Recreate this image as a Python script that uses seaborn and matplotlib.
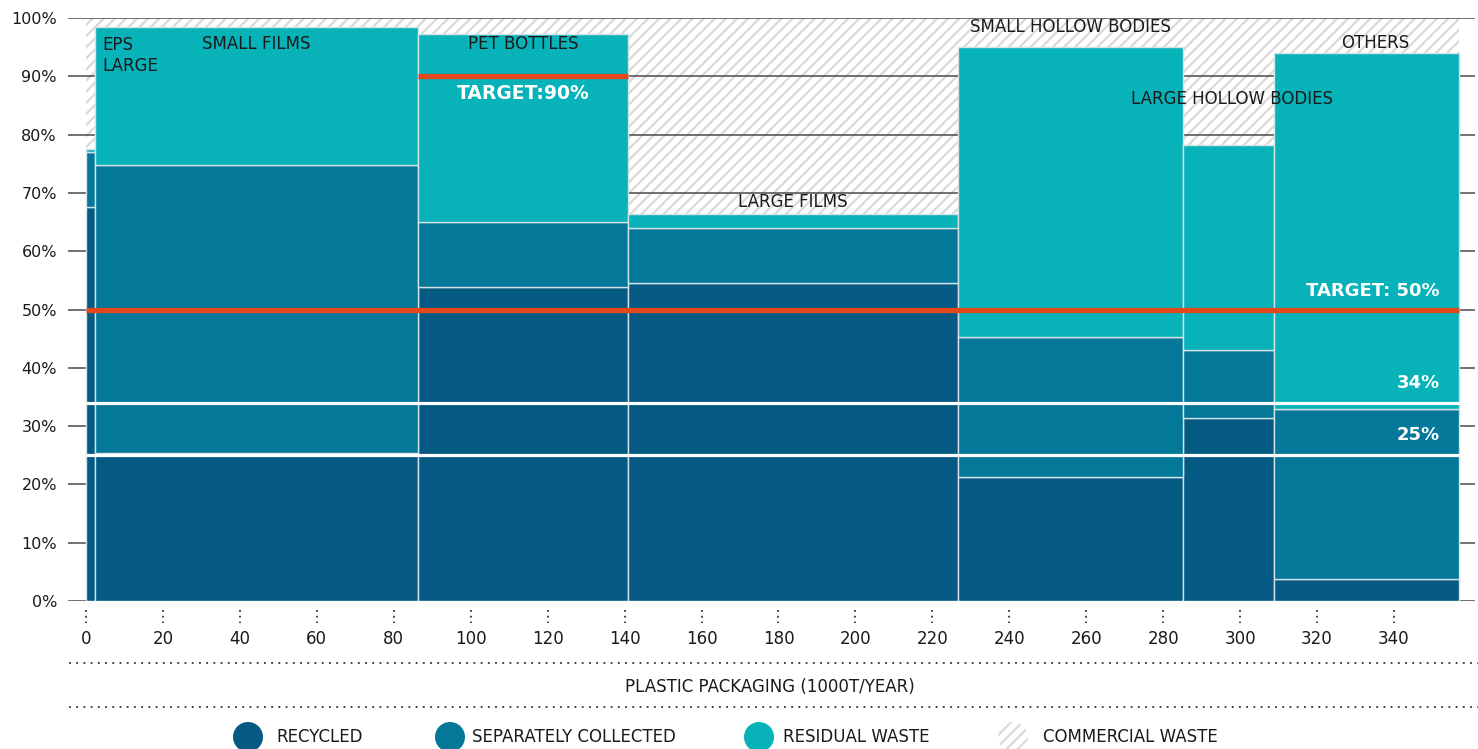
import numpy as np
import pandas as pd
import matplotlib
matplotlib.use("Agg")
import matplotlib.pyplot as plt
from matplotlib.patches import Rectangle, Circle
import seaborn as sns

# Plastic packaging streams: volume (1000 t/year) and share of each fate (%)
categories = ["EPS LARGE", "SMALL FILMS", "PET BOTTLES", "LARGE FILMS",
              "SMALL HOLLOW BODIES", "LARGE HOLLOW BODIES", "OTHERS"]
volumes = [2.3, 84.0, 54.6, 85.8, 58.5, 23.6, 48.1]
recycled = [67.6, 25.4, 53.9, 54.5, 21.3, 31.4, 3.8]
separately_collected = [9.5, 49.4, 11.1, 9.5, 24.0, 11.7, 29.1]
residual_waste = [0.5, 23.7, 32.3, 2.4, 49.7, 35.1, 61.1]

statuses = ["RECYCLED", "SEPARATELY COLLECTED", "RESIDUAL WASTE", "COMMERCIAL WASTE"]
target_overall = 50
target_pet = 90
quota_levels = [34, 25]
quota_labels = ["34%", "25%"]
x_ticks = list(range(0, 341, 20))
y_ticks = list(range(0, 101, 10))
y_tick_labels = [f"{v}%" for v in y_ticks]

# colours
C_REC = "#045a82"
C_SEP = "#047898"
C_RES = "#07b2b8"
C_ORANGE = "#e5471c"
C_GRID = "#4a4a4a"
C_HATCH = "#d9d9d9"
TXT = "#1a1a1a"

sns.set_theme(style="white")
plt.rcParams["font.family"] = ["DejaVu Sans"]
plt.rcParams["hatch.linewidth"] = 1.6

W, H = 1478, 749
fig = plt.figure(figsize=(W / 100, H / 100), dpi=100)
ax = fig.add_axes([68 / W, (H - 601) / H, (1475 - 68) / W, (601 - 18) / H])

edges = [0.0] + list(np.cumsum(volumes))
mids = [(a + b) / 2 for a, b in zip(edges[:-1], edges[1:])]

rows = []
for i, cat in enumerate(categories):
    for status, vals in zip(statuses[:3], [recycled, separately_collected, residual_waste]):
        rows.append({"category": cat, "mid": mids[i], "share": vals[i], "status": status})
df = pd.DataFrame(rows)

# commercial waste: hatched remainder up to 100 %
commercial = Rectangle((0, 0), edges[-1], 100, facecolor="white", edgecolor=C_HATCH,
                       hatch="///", linewidth=0, zorder=0.2)
ax.add_patch(commercial)
for y in y_ticks:
    ax.axhline(y, color=C_GRID, lw=1.1, zorder=0.6)

# variable-width stacked bars (Marimekko)
sns.histplot(data=df, x="mid", weights="share", hue="status",
             hue_order=[statuses[2], statuses[1], statuses[0]],
             palette={statuses[0]: C_REC, statuses[1]: C_SEP, statuses[2]: C_RES},
             bins=[float(e) for e in edges], multiple="stack", stat="count", alpha=1,
             edgecolor="#d5e3e8", linewidth=1.0, legend=False, ax=ax)
for p in ax.patches:
    if p is not commercial:
        p.set_zorder(2)

# quota reference lines
ax.hlines(quota_levels, 0, edges[-1], color="white", lw=2.3, zorder=4)
for lvl, lab in zip(quota_levels, quota_labels):
    ax.text(351.9, lvl + 3.4, lab, color="white", fontsize=13, fontweight="bold",
            ha="right", va="center", zorder=6)

# targets
ax.hlines(target_overall, 0, edges[-1], color=C_ORANGE, lw=3.8, zorder=5)
ax.text(351.9, target_overall + 3.2, f"TARGET: {target_overall}%", color="white",
        fontsize=13, fontweight="bold", ha="right", va="center", zorder=6)
ax.hlines(target_pet, edges[2], edges[3], color=C_ORANGE, lw=3.8, zorder=5)
ax.text(mids[2], target_pet - 2.9, f"TARGET:{target_pet}%", color="white",
        fontsize=13.5, fontweight="bold", ha="center", va="center", zorder=6)

# category labels
label_y = [None, 95.6, 95.6, 68.4, 98.5, 86.1, 95.7]
label_dx = [0, 0, 0, 0, 0, 0.9, 2.4]
for i, cat in enumerate(categories):
    if label_y[i] is None:
        continue
    ax.text(mids[i] + label_dx[i], label_y[i], cat, fontsize=12, color=TXT,
            ha="center", va="center", zorder=7)
ax.text(edges[1] + 2.0, 96.9, "EPS\nLARGE", fontsize=12, color=TXT, ha="left",
        va="top", linespacing=1.2, zorder=7)

# axes
ax.set_xlim((68 - 86) / 3.847, (1475 - 86) / 3.847)
ax.set_ylim(0, 100)
ax.set_xlabel("")
ax.set_ylabel("")
ax.set_xticks(x_ticks)
ax.set_xticklabels([str(t) for t in x_ticks])
ax.set_yticks(y_ticks)
ax.set_yticklabels(y_tick_labels)
ax.tick_params(axis="x", length=0, pad=21, labelsize=12, labelcolor=TXT)
ax.tick_params(axis="y", length=0, pad=8, labelsize=11.5, labelcolor=TXT)
ax.grid(False)
for s in ax.spines.values():
    s.set_visible(False)
ax.vlines(x_ticks, -1.5, -3.7, colors="#333333", linestyles=(0, (1, 2.2)), lw=1.3,
          clip_on=False)

# footer: axis title between dotted rules, and legend
ov = fig.add_axes([0, 0, 1, 1], zorder=-1)
ov.set_xlim(0, W)
ov.set_ylim(H, 0)
ov.axis("off")
for yy in (663, 707):
    ov.plot([69, W], [yy, yy], color="#333333", lw=1.3, linestyle=(0, (1, 3)))
ov.text(770, 687, "PLASTIC PACKAGING (1000T/YEAR)", fontsize=12, color=TXT,
        ha="center", va="center")

legend_circles = [248, 450, 759, 1013]
legend_texts = [276, 472, 783, 1043]
for i, name in enumerate(statuses):
    if i < 3:
        c = Circle((legend_circles[i], 737), 15, facecolor=[C_REC, C_SEP, C_RES][i],
                   edgecolor="none")
    else:
        c = Circle((legend_circles[i], 737), 15, facecolor="white", edgecolor=C_HATCH,
                   hatch="///", linewidth=0)
    ov.add_patch(c)
    ov.text(legend_texts[i], 737, name, fontsize=12, color=TXT, ha="left", va="center")

fig.savefig("out.png", dpi=100, facecolor="white")
